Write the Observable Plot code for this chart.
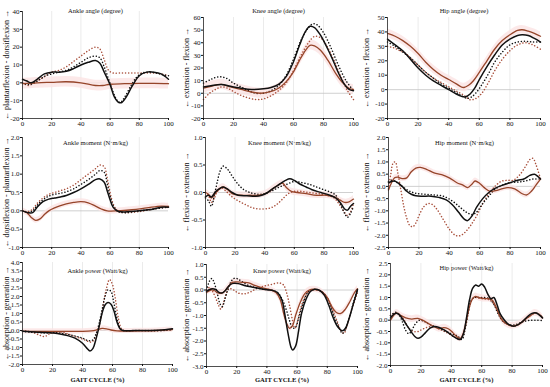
<!DOCTYPE html>
<html><head><meta charset="utf-8">
<script src="https://cdn.jsdelivr.net/npm/d3@7"></script>
<script src="https://cdn.jsdelivr.net/npm/@observablehq/plot@0.6"></script>
<style>
html,body{margin:0;padding:0;background:#fff;}
#wrap{position:relative;width:550px;height:387px;overflow:hidden;background:#fff;}
#wrap svg{position:absolute;}
</style></head><body><div id="wrap"></div>
<script>
// ---- tick labels ----
const xTicks = [0, 20, 40, 60, 80, 100];
const gridTicks = [20, 40, 60, 80];
const titles = ["Ankle angle (degree)", "Knee angle (degree)", "Hip angle (degree)",
  "Ankle moment (N·m/kg)", "Knee moment (N·m/kg)", "Hip moment (N·m/kg)",
  "Ankle power (Watt/kg)", "Knee power (Watt/kg)", "Hip power (Watt/kg)"];
const yLabels = ["← plantarflexion - dorsiflexion →", "← extension - flexion →", "← extension - flexion →",
  "← dorsiflexion - plantarflexion →", "← flexion - extension →", "← flexion - extension →",
  "← absorption - generation →", "← absorption - generation →", "← absorption - generation →"];
const yDomains = [[-20, 40], [-20, 60], [-20, 50], [-1, 2], [-1, 1], [-2.5, 2], [-2, 4], [-3, 1], [-2, 2.5]];
const yStep = [10, 10, 10, 0.5, 0.5, 0.5, 0.5, 0.5, 0.5];
const bandHalf = [3, 4, 3, 0.08, 0.06, 0.12, 0.15, 0.12, 0.15];
const xTitle = "GAIT CYCLE (%)";

// ---- series: [gait %, value] ----
// Ankle angle
const aaBlack = [[0,2],[3,1],[6,0],[10,2],[15,5],[20,6],[25,6],[30,6.5],[35,8],[40,10],[45,11.5],[50,12.5],[53,11],[56,6],[60,-1],[63,-8],[66,-11],[68,-11],[71,-8],[75,-2],[80,4],[85,6],[90,6],[95,5],[100,2]];
const aaBlackDot = [[0,0],[4,-1],[8,0],[12,2],[16,4],[20,5],[25,6],[30,7],[35,9],[40,11.5],[45,14],[50,15],[53,14],[56,9],[59,2],[62,-5],[65,-10],[67,-11],[70,-8],[74,-2],[78,3],[82,5.5],[87,6],[92,5.5],[96,4.5],[100,4]];
const aaRedDot = [[0,0],[4,-1.5],[8,0],[12,2],[16,4],[20,6],[25,7],[30,9],[35,12],[40,15],[45,18],[50,20],[53,19],[56,13],[59,7],[62,5.5],[66,5.5],[70,5.5],[75,5.5],[80,5.5],[85,5.5],[90,5.5],[95,5],[100,4]];
const aaBrown = [[0,-0.5],[10,0],[20,0.3],[30,0.6],[40,0],[50,-1.5],[55,-1.5],[60,-0.8],[70,-0.5],[80,-0.3],[90,-0.3],[100,-0.5]];
// Knee angle
const kaBlack = [[0,5],[5,6],[12,7],[18,5.5],[25,4],[32,3],[40,3.5],[45,4.5],[50,7],[55,13],[60,25],[64,38],[68,49],[71,53],[74,52],[78,46],[82,37],[86,27],[90,16],[94,7],[97,3],[100,2]];
const kaBlackDot = [[0,8],[5,11],[10,13],[15,12],[20,8],[25,5],[30,2],[35,0],[40,0],[45,2],[50,6],[55,14],[60,27],[65,42],[70,52],[73,55],[76,54],[80,48],[85,36],[90,22],[95,10],[100,2]];
const kaRedDot = [[0,-5],[4,0],[8,3],[12,5],[16,4],[22,0],[28,-3],[35,-5],[40,-4.5],[45,-2],[50,2],[55,8],[60,18],[65,30],[70,40],[74,45],[78,44],[82,38],[87,26],[92,12],[96,2],[100,-5]];
const kaBrown = [[0,4],[5,5.5],[12,7],[18,5],[25,3],[32,1],[38,0],[44,1],[50,4],[55,9],[60,17],[64,26],[68,34],[71,38],[74,37.5],[78,34],[83,26],[88,16],[93,8],[97,4],[100,3]];
// Hip angle
const haBlack = [[0,35],[5,31],[10,27],[15,21],[20,15],[25,10],[30,6],[35,3],[40,0],[45,-3],[48,-4.5],[51,-5],[54,-3],[57,1],[60,7],[65,16],[70,24],[75,31],[80,35],[85,37.5],[88,38],[92,37.5],[96,35.5],[100,33]];
const haBlackDot = [[0,33],[5,30],[10,26],[15,22],[20,17],[25,12],[30,8],[35,4],[40,1],[45,-2],[48,-4],[52,-6],[55,-5],[58,-2],[62,4],[66,11],[70,19],[75,26],[80,31],[85,33],[90,33.5],[95,33],[100,33]];
const haRedDot = [[0,30],[4,29],[8,27],[12,25],[16,21],[20,17],[25,12],[30,8],[35,5],[40,2],[45,-1],[50,-4],[54,-7],[58,-6],[62,-2],[66,5],[70,13],[75,21],[80,27],[85,31],[90,32.5],[95,31],[100,28]];
const haBrown = [[0,39],[5,37],[10,34],[15,30],[20,25],[25,19],[30,14],[35,10],[40,7],[45,4],[48,2],[50,1.5],[53,3],[56,6],[60,12],[65,20],[70,28],[75,34],[80,38],[85,41],[88,41.5],[92,40.5],[96,39],[100,37]];
// Ankle moment
const amBlack = [[0,0],[4,-0.05],[7,-0.05],[10,0.1],[14,0.25],[18,0.32],[22,0.35],[26,0.38],[30,0.42],[35,0.5],[40,0.6],[45,0.72],[50,0.85],[53,0.87],[56,0.78],[58,0.55],[60,0.3],[62,0.1],[64,0.02],[66,-0.02],[70,-0.03],[80,0],[90,0.05],[95,0.1],[100,0.1]];
const amBlackDot = [[0,0],[4,-0.05],[7,0],[10,0.15],[14,0.3],[18,0.4],[22,0.45],[26,0.48],[30,0.52],[35,0.6],[40,0.72],[45,0.85],[50,1.0],[53,1.1],[56,1.05],[58,0.75],[60,0.4],[62,0.15],[64,0.03],[66,-0.03],[70,-0.05],[80,0],[90,0.05],[100,0.1]];
const amRedDot = [[0,0],[4,-0.02],[7,0.05],[10,0.2],[14,0.35],[18,0.45],[22,0.5],[26,0.55],[30,0.6],[35,0.7],[40,0.85],[45,1.0],[50,1.15],[53,1.25],[56,1.2],[58,0.9],[60,0.5],[62,0.2],[64,0.05],[66,-0.02],[70,-0.05],[80,-0.02],[90,0.05],[100,0.12]];
const amBrown = [[0,0],[3,-0.05],[6,-0.18],[9,-0.26],[12,-0.22],[15,-0.1],[18,0],[22,0.08],[26,0.14],[30,0.19],[35,0.23],[40,0.25],[45,0.22],[50,0.13],[54,0.05],[58,0],[65,0],[75,0.03],[85,0.08],[95,0.13],[100,0.12]];
// Knee moment
const kmBlack = [[0,-0.08],[2,-0.05],[4,-0.08],[7,0.02],[10,0.08],[12,0.1],[15,0.06],[18,0],[22,-0.05],[28,-0.06],[34,-0.07],[38,-0.05],[42,0],[46,0.08],[50,0.15],[54,0.22],[57,0.25],[60,0.22],[64,0.15],[68,0.1],[72,0.05],[78,0],[84,-0.05],[88,-0.1],[91,-0.18],[94,-0.3],[96,-0.32],[98,-0.25],[100,-0.2]];
const kmBlackDot = [[0,-0.1],[2,-0.15],[4,-0.25],[6,-0.05],[8,0.2],[10,0.4],[12,0.48],[15,0.42],[18,0.3],[22,0.15],[26,0.05],[30,0],[35,-0.03],[40,-0.02],[45,0.03],[50,0.1],[55,0.15],[60,0.2],[65,0.18],[70,0.15],[75,0.1],[80,0.05],[85,0],[88,-0.05],[91,-0.2],[94,-0.38],[96,-0.45],[98,-0.38],[100,-0.25]];
const kmRedDot = [[0,0],[2,-0.05],[4,-0.18],[6,-0.1],[8,0.02],[11,0.08],[14,0.02],[18,-0.08],[22,-0.15],[27,-0.22],[32,-0.28],[38,-0.3],[44,-0.28],[48,-0.22],[52,-0.12],[56,-0.02],[60,0.02],[65,0.02],[70,0],[76,-0.02],[82,-0.05],[87,-0.1],[90,-0.2],[93,-0.32],[96,-0.42],[98,-0.35],[100,-0.2]];
const kmBrown = [[0,0],[2,-0.03],[4,-0.1],[7,0],[10,0.08],[12,0.1],[15,0.05],[18,-0.02],[24,-0.05],[30,-0.05],[36,-0.05],[42,0],[46,0.08],[50,0.15],[52,0.17],[55,0.08],[58,0.02],[62,0],[68,-0.02],[75,-0.05],[82,-0.05],[87,-0.08],[91,-0.14],[94,-0.18],[97,-0.17],[100,-0.12]];
// Hip moment
const hmBlack = [[0,0.15],[2,0.2],[4,0.22],[6,0.15],[9,0],[12,-0.2],[15,-0.32],[18,-0.38],[22,-0.4],[28,-0.4],[33,-0.45],[38,-0.55],[42,-0.75],[46,-1.05],[50,-1.35],[52,-1.4],[55,-1.2],[58,-0.85],[62,-0.5],[66,-0.25],[70,-0.08],[75,0.05],[80,0.15],[85,0.25],[89,0.3],[93,0.45],[96,0.5],[98,0.42],[100,0.3]];
const hmBlackDot = [[0,0.2],[2,0.25],[4,0.22],[7,0.1],[10,-0.05],[14,-0.2],[18,-0.28],[24,-0.32],[30,-0.35],[36,-0.4],[42,-0.6],[47,-0.85],[51,-1.05],[55,-1.15],[58,-1.05],[62,-0.7],[66,-0.4],[70,-0.12],[75,0.05],[80,0.15],[86,0.18],[90,0.22],[95,0.3],[100,0.3]];
const hmRedDot = [[0,-0.1],[1.5,0.5],[3,0.95],[4.5,1.0],[6,0.6],[8,-0.1],[10,-0.8],[12,-1.3],[14,-1.6],[16,-1.65],[18,-1.5],[20,-1.2],[23,-0.85],[26,-0.7],[29,-0.75],[32,-0.95],[36,-1.35],[40,-1.75],[44,-2.0],[47,-2.02],[50,-1.9],[54,-1.6],[58,-1.2],[62,-0.7],[66,-0.3],[70,0],[74,0.2],[78,0.25],[82,0.25],[86,0.45],[90,0.8],[93,1.1],[95,1.15],[97,0.9],[100,0.3]];
const hmBrown = [[0,-0.15],[2,0.15],[4,0.35],[6,0.38],[9,0.32],[12,0.35],[15,0.6],[18,0.75],[21,0.78],[25,0.7],[30,0.55],[35,0.48],[40,0.35],[45,0.15],[49,0.05],[52,-0.05],[55,0.1],[57,0.22],[60,0.12],[63,-0.05],[67,-0.2],[72,-0.15],[78,-0.05],[83,-0.1],[88,-0.3],[91,-0.35],[94,-0.2],[97,0.05],[100,0.3]];
// Ankle power
const apBlack = [[0,-0.05],[5,-0.08],[10,-0.1],[15,-0.12],[20,-0.15],[25,-0.2],[30,-0.3],[35,-0.45],[40,-0.75],[43,-1.05],[45,-1.2],[47,-1.05],[49,-0.5],[51,0.2],[53,1.0],[55,1.5],[57,1.65],[59,1.55],[61,1.15],[63,0.5],[65,0.1],[67,0],[75,0],[85,0],[95,0.05],[100,0.1]];
const apBlackDot = [[0,-0.05],[5,-0.1],[10,-0.12],[15,-0.15],[20,-0.12],[25,-0.15],[30,-0.22],[35,-0.32],[40,-0.45],[44,-0.6],[47,-0.55],[49,-0.2],[51,0.4],[53,1.2],[55,2.0],[57,2.4],[59,2.3],[61,1.6],[63,0.7],[65,0.15],[67,0],[75,0],[85,-0.02],[95,0],[100,0.05]];
const apRedDot = [[0,0],[4,-0.05],[8,-0.15],[12,-0.3],[15,-0.35],[18,-0.2],[22,-0.1],[26,-0.1],[30,-0.2],[35,-0.35],[40,-0.5],[44,-0.65],[46,-0.68],[48,-0.5],[50,-0.1],[52,0.6],[54,1.6],[56,2.5],[58,3.0],[60,2.7],[62,1.8],[64,0.7],[66,0.1],[68,0],[80,0],[90,0],[100,0.05]];
const apBrown = [[0,-0.05],[10,-0.05],[20,-0.05],[30,-0.05],[40,-0.05],[46,-0.02],[50,0.05],[53,0.12],[56,0.1],[59,0.03],[63,-0.02],[70,-0.03],[80,-0.02],[90,0],[100,0.05]];
// Knee power
const kpBlack = [[0,-0.05],[2,0.02],[4,0.05],[6,0.02],[8,-0.08],[10,-0.12],[12,-0.05],[14,0.1],[16,0.22],[18,0.26],[21,0.25],[25,0.18],[30,0.12],[35,0.06],[40,0.01],[44,-0.02],[47,-0.1],[50,-0.4],[52,-1.0],[54,-1.7],[56,-2.25],[57,-2.35],[59,-2.2],[61,-1.6],[63,-0.9],[66,-0.35],[69,-0.05],[72,0.03],[75,-0.02],[78,-0.2],[81,-0.6],[84,-1.1],[87,-1.45],[90,-1.6],[92,-1.5],[94,-1.2],[97,-0.6],[100,0.02]];
const kpBlackDot = [[0,0],[2,0.35],[3.5,0.45],[5,0.3],[7,-0.1],[9,-0.55],[10.5,-0.65],[12,-0.4],[14,0],[16,0.3],[18,0.45],[20,0.45],[23,0.35],[27,0.2],[32,0.1],[38,0.03],[43,0],[47,-0.1],[50,-0.35],[53,-0.8],[55,-1.2],[57,-1.5],[59,-1.45],[61,-1.1],[64,-0.5],[67,-0.1],[70,0.02],[74,0],[78,-0.15],[82,-0.6],[85,-1.1],[88,-1.5],[90,-1.7],[92,-1.55],[95,-1.0],[98,-0.35],[100,0]];
const kpRedDot = [[0,0],[2,0.1],[4,-0.05],[6,-0.3],[8,-0.6],[9.5,-0.75],[11,-0.55],[13,-0.15],[15,0.05],[18,0],[21,-0.12],[25,-0.15],[29,-0.08],[33,0.05],[38,0.15],[43,0.22],[48,0.28],[51,0.2],[53,-0.1],[55,-0.6],[57,-1.2],[58.5,-1.5],[60,-1.3],[62,-0.8],[65,-0.3],[68,-0.05],[72,0],[76,-0.05],[80,-0.3],[84,-0.85],[87,-1.3],[89,-1.6],[91,-1.7],[93,-1.4],[96,-0.8],[100,-0.1]];
const kpBrown = [[0,-0.1],[3,0],[5,-0.02],[8,-0.12],[11,-0.1],[14,0.1],[17,0.3],[20,0.32],[24,0.3],[28,0.28],[32,0.18],[37,0.08],[42,0.02],[46,-0.1],[49,-0.4],[51,-0.9],[53,-1.3],[55,-1.5],[57,-1.4],[59,-1.0],[62,-0.5],[65,-0.15],[68,0],[71,0.03],[74,0],[77,-0.1],[80,-0.3],[83,-0.65],[86,-0.88],[89,-0.92],[92,-0.75],[95,-0.45],[98,-0.1],[100,0.05]];
// Hip power
const hpBlack = [[0,0.1],[2,0.25],[4,0.3],[6,0.22],[8,0.05],[11,-0.25],[14,-0.55],[16,-0.72],[18,-0.8],[20,-0.75],[23,-0.55],[26,-0.35],[29,-0.28],[32,-0.32],[35,-0.42],[38,-0.55],[41,-0.7],[44,-0.82],[46,-0.85],[48,-0.6],[50,0.1],[52,0.9],[54,1.4],[56,1.55],[58,1.5],[60,1.6],[62,1.45],[64,1.15],[66,0.95],[68,1.0],[70,0.7],[72,0.3],[75,0],[78,-0.2],[81,-0.27],[84,-0.2],[87,-0.05],[90,0.15],[93,0.3],[96,0.32],[98,0.22],[100,0.1]];
const hpBlackDot = [[0,0.2],[2,0.3],[4,0.35],[6,0.2],[8,-0.1],[10,-0.45],[12,-0.6],[14,-0.45],[16,-0.2],[19,0],[22,-0.05],[26,-0.2],[30,-0.3],[35,-0.45],[40,-0.6],[44,-0.7],[47,-0.85],[49,-0.4],[51,0.3],[53,0.85],[55,1.0],[58,1.0],[62,1.0],[65,0.95],[68,0.7],[71,0.25],[74,-0.05],[78,-0.2],[82,-0.2],[86,-0.1],[90,-0.02],[95,0],[100,-0.02]];
const hpRedDot = [[0,0.2],[3,0.32],[6,0.25],[9,0],[12,-0.35],[15,-0.5],[18,-0.5],[21,-0.4],[25,-0.3],[29,-0.3],[33,-0.42],[37,-0.55],[41,-0.7],[44,-0.82],[46,-0.85],[48,-0.65],[50,-0.1],[52,0.6],[54,0.95],[56,1.0],[60,0.95],[64,0.92],[67,0.8],[70,0.45],[73,0.05],[76,-0.15],[80,-0.27],[84,-0.2],[88,0],[92,0.2],[95,0.3],[98,0.25],[100,0.12]];
const hpBrown = [[0,0],[2,0.2],[4,0.32],[7,0.2],[10,0.1],[14,0.05],[18,0.08],[21,0],[25,-0.15],[29,-0.3],[32,-0.38],[35,-0.33],[38,-0.38],[41,-0.55],[44,-0.75],[46,-0.8],[48,-0.55],[50,0],[52,0.6],[54,0.95],[56,1.05],[58,1.0],[62,0.95],[65,0.95],[67,0.88],[70,0.5],[73,0.05],[76,-0.15],[80,-0.25],[84,-0.2],[88,0],[92,0.2],[95,0.32],[98,0.25],[100,0.1]];

const seriesSets = [
  [aaBlack, aaBlackDot, aaRedDot, aaBrown],
  [kaBlack, kaBlackDot, kaRedDot, kaBrown],
  [haBlack, haBlackDot, haRedDot, haBrown],
  [amBlack, amBlackDot, amRedDot, amBrown],
  [kmBlack, kmBlackDot, kmRedDot, kmBrown],
  [hmBlack, hmBlackDot, hmRedDot, hmBrown],
  [apBlack, apBlackDot, apRedDot, apBrown],
  [kpBlack, kpBlackDot, kpRedDot, kpBrown],
  [hpBlack, hpBlackDot, hpRedDot, hpBrown]
];

// ---- layout (page pixels) ----
const colStart = [0, 180, 360], colWidth = [180, 182, 190];
const rowStart = [0, 125, 255], rowHeight = [125, 130, 132];
const frames = [
  [22,168,11,118],[203,353,17,118],[387,540,17,118],
  [22,168,137,247],[205,353,137,247],[388,540,137,247],
  [22,172,262,364],[206,357,264,366],[390,542,263,365]
];
const titleY = [8, 8, 8, 140, 140, 140, 268, 268, 265];
const FONT = "Liberation Serif, Times New Roman, serif";
const cBlack = "#111", cBrown = "#96452a", cRed = "#a9503c", cBand = "#fbe3e3";

const wrap = document.getElementById("wrap");
for (let i = 0; i < 9; i++) {
  const col = i % 3, row = Math.floor(i / 3);
  const [x0, x1, y0, y1] = frames[i];
  const W = colWidth[col], H = rowHeight[row];
  const mL = x0 - colStart[col], mR = W - (x1 - colStart[col]);
  const mT = y0 - rowStart[row], mB = H - (y1 - rowStart[row]);
  const [lo, hi] = yDomains[i];
  const step = yStep[i];
  const yt = d3.range(lo, hi + step / 2, step).map(v => +v.toFixed(2));
  const fmt = step < 1 ? (d => d.toFixed(1)) : (d => d.toFixed(0));
  const [sBlack, sBlackDot, sRedDot, sBrown] = seriesSets[i];
  const sd = bandHalf[i];
  const curve = "catmull-rom";
  const X = d => d[0], Y = d => d[1];
  const marks = [
    Plot.gridX(gridTicks, {stroke: "#e2e2e2", strokeOpacity: 1, strokeWidth: 0.7}),
    Plot.ruleY([0], {stroke: "#c4c4c4", strokeWidth: 0.8}),
    Plot.areaY(sBrown, {x: X, y1: d => d[1] - sd, y2: d => d[1] + sd, fill: cBand, fillOpacity: 0.8, curve}),
    Plot.line(sRedDot, {x: X, y: Y, stroke: cRed, strokeWidth: 1.5, strokeDasharray: "0.1,3", strokeLinecap: "round", curve}),
    Plot.line(sBlackDot, {x: X, y: Y, stroke: cBlack, strokeWidth: 1.5, strokeDasharray: "0.1,3", strokeLinecap: "round", curve}),
    Plot.line(sBrown, {x: X, y: Y, stroke: cBrown, strokeWidth: 1.3, curve}),
    Plot.line(sBlack, {x: X, y: Y, stroke: cBlack, strokeWidth: 1.5, curve}),
    Plot.ruleX([xTicks[0]], {stroke: "#222", strokeWidth: 0.8}),
    Plot.ruleY([lo], {stroke: "#222", strokeWidth: 0.8}),
    Plot.axisX({ticks: xTicks, tickSize: 2, tickPadding: 1, label: null, fontSize: 7, tickFormat: d => String(d)}),
    Plot.axisY({ticks: yt, tickSize: 2, tickPadding: 1, fontSize: 7, tickFormat: fmt, label: null}),
    Plot.axisY({ticks: [], tickSize: 0, fontSize: 8, label: yLabels[i], labelAnchor: "center", labelArrow: "none", labelOffset: mL - 2.5}),
    Plot.text([titles[i]], {frameAnchor: "top", dy: titleY[i] - y0, fontSize: 6.5, fill: "#111"})
  ];
  if (row === 2) {
    marks.push(Plot.text([xTitle], {frameAnchor: "bottom", dy: 381 - y1, fontSize: 6.6, fontWeight: "bold", fill: "#111"}));
  }
  const svg = Plot.plot({
    width: W, height: H,
    marginLeft: mL, marginRight: mR, marginTop: mT, marginBottom: mB,
    x: {domain: [0, 100]},
    y: {domain: [lo, hi]},
    style: {fontFamily: FONT, fontSize: "7px", background: "transparent", color: "#111", overflow: "visible"},
    marks
  });
  svg.style.left = colStart[col] + "px";
  svg.style.top = rowStart[row] + "px";
  wrap.appendChild(svg);
}
</script></body></html>
